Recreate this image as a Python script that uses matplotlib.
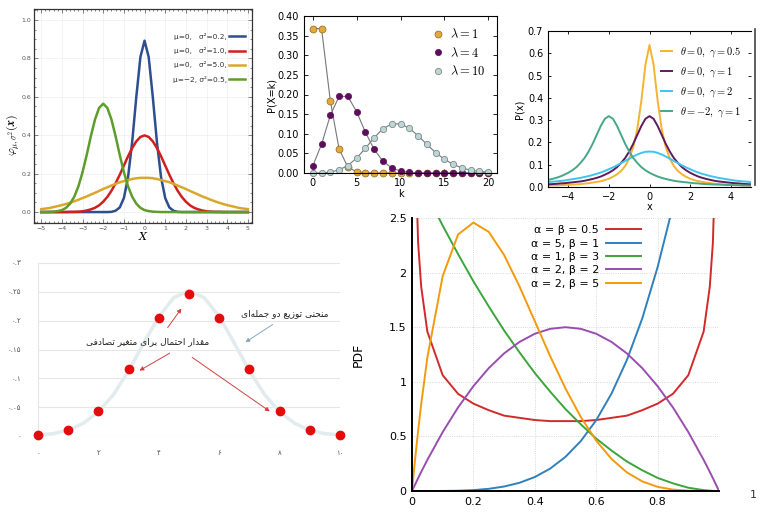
import numpy as np
import matplotlib
matplotlib.use("Agg")
import matplotlib.pyplot as plt
from matplotlib.lines import Line2D

# figure size in pixels, panels are placed by pixel boxes
W, H = 768, 517

def box(left, top, right, bottom):
    return [left / W, 1 - bottom / H, (right - left) / W, (bottom - top) / H]

# ---- data: normal distribution panel (sampled every 0.2) ----
norm_x = np.round(np.arange(-5, 5.01, 0.2), 1)
norm_blue = [0, 0, 0, 0, 0, 0, 0, 0, 0, 0, 0, 0, 0, 0, 0, 0,
             0.0, 0.001, 0.007, 0.024, 0.073, 0.180, 0.363, 0.598, 0.807, 0.892,
             0.807, 0.598, 0.363, 0.180, 0.073, 0.024, 0.007, 0.001, 0.0,
             0, 0, 0, 0, 0, 0, 0, 0, 0, 0, 0, 0, 0, 0, 0, 0]
norm_red = [0, 0, 0, 0, 0, 0, 0, 0.001, 0.001, 0.002, 0.004, 0.008, 0.014, 0.022, 0.035,
            0.054, 0.079, 0.111, 0.150, 0.194, 0.242, 0.290, 0.333, 0.368, 0.391, 0.399,
            0.391, 0.368, 0.333, 0.290, 0.242, 0.194, 0.150, 0.111, 0.079, 0.054,
            0.035, 0.022, 0.014, 0.008, 0.004, 0.002, 0.001, 0.001, 0, 0, 0, 0, 0, 0, 0]
norm_orange = [0.015, 0.018, 0.021, 0.026, 0.031, 0.036, 0.042, 0.049, 0.056, 0.064,
               0.073, 0.081, 0.091, 0.100, 0.110, 0.120, 0.129, 0.138, 0.147, 0.155,
               0.161, 0.167, 0.172, 0.176, 0.178, 0.178, 0.178, 0.176, 0.172, 0.167,
               0.161, 0.155, 0.147, 0.138, 0.129, 0.120, 0.110, 0.100, 0.091, 0.081,
               0.073, 0.064, 0.056, 0.049, 0.042, 0.036, 0.031, 0.026, 0.021, 0.018, 0.015]
norm_green = [0.000, 0.000, 0.001, 0.002, 0.005, 0.010, 0.022, 0.044, 0.080, 0.134,
              0.208, 0.297, 0.394, 0.481, 0.542, 0.564, 0.542, 0.481, 0.394, 0.297,
              0.208, 0.134, 0.080, 0.044, 0.022, 0.010, 0.005, 0.002, 0.001,
              0, 0, 0, 0, 0, 0, 0, 0, 0, 0, 0, 0, 0, 0, 0, 0, 0, 0, 0, 0, 0, 0]
norm_labels = ["\u03bc=0,   \u03c3\u00b2=0.2,", "\u03bc=0,   \u03c3\u00b2=1.0,",
               "\u03bc=0,   \u03c3\u00b2=5.0,", "\u03bc=\u22122, \u03c3\u00b2=0.5,"]

# ---- data: poisson panel ----
pois_k = np.arange(0, 21)
pois_1 = [0.368, 0.368, 0.184, 0.061, 0.015, 0.003, 0.001, 0, 0, 0, 0,
          0, 0, 0, 0, 0, 0, 0, 0, 0, 0]
pois_4 = [0.018, 0.073, 0.147, 0.195, 0.195, 0.156, 0.104, 0.060, 0.030, 0.013, 0.005,
          0.002, 0.001, 0, 0, 0, 0, 0, 0, 0, 0]
pois_10 = [0.000, 0.000, 0.002, 0.008, 0.019, 0.038, 0.063, 0.090, 0.113, 0.125, 0.125,
           0.114, 0.095, 0.073, 0.052, 0.035, 0.022, 0.013, 0.007, 0.004, 0.002]

# ---- data: cauchy panel (same x grid as normal) ----
cau_orange = [0.006, 0.007, 0.007, 0.008, 0.009, 0.010, 0.011, 0.012, 0.013, 0.015,
              0.017, 0.020, 0.023, 0.026, 0.031, 0.037, 0.046, 0.057, 0.072, 0.094,
              0.127, 0.179, 0.261, 0.388, 0.549, 0.637, 0.549, 0.388, 0.261, 0.179,
              0.127, 0.094, 0.072, 0.057, 0.046, 0.037, 0.031, 0.026, 0.023, 0.020,
              0.017, 0.015, 0.013, 0.012, 0.011, 0.010, 0.009, 0.008, 0.007, 0.007, 0.006]
cau_purple = [0.012, 0.013, 0.014, 0.016, 0.017, 0.019, 0.021, 0.023, 0.025, 0.028,
              0.032, 0.036, 0.041, 0.047, 0.055, 0.064, 0.075, 0.089, 0.108, 0.130,
              0.159, 0.194, 0.234, 0.274, 0.306, 0.318, 0.306, 0.274, 0.234, 0.194,
              0.159, 0.130, 0.108, 0.089, 0.075, 0.064, 0.055, 0.047, 0.041, 0.036,
              0.032, 0.028, 0.025, 0.023, 0.021, 0.019, 0.017, 0.016, 0.014, 0.013, 0.012]
cau_cyan = [0.022, 0.024, 0.025, 0.027, 0.029, 0.032, 0.035, 0.038, 0.041, 0.045,
            0.049, 0.054, 0.059, 0.065, 0.072, 0.080, 0.088, 0.097, 0.107, 0.117,
            0.127, 0.137, 0.146, 0.153, 0.158, 0.159, 0.158, 0.153, 0.146, 0.137,
            0.127, 0.117, 0.107, 0.097, 0.088, 0.080, 0.072, 0.065, 0.059, 0.054,
            0.049, 0.045, 0.041, 0.038, 0.035, 0.032, 0.029, 0.027, 0.025, 0.024, 0.022]
cau_teal = [0.032, 0.036, 0.041, 0.047, 0.055, 0.064, 0.075, 0.089, 0.108, 0.130,
            0.159, 0.194, 0.234, 0.274, 0.306, 0.318, 0.306, 0.274, 0.234, 0.194,
            0.159, 0.130, 0.108, 0.089, 0.075, 0.064, 0.055, 0.047, 0.041, 0.036,
            0.032, 0.028, 0.025, 0.023, 0.021, 0.019, 0.017, 0.016, 0.014, 0.013,
            0.012, 0.011, 0.011, 0.010, 0.009, 0.009, 0.008, 0.008, 0.007, 0.007, 0.006]
cau_labels = [r"$\theta=0,\ \gamma=0.5$", r"$\theta=0,\ \gamma=1$",
              r"$\theta=0,\ \gamma=2$", r"$\theta=-2,\ \gamma=1$"]

# ---- data: binomial panel (persian) ----
binom_k = np.arange(0, 11)
binom_p = [0.001, 0.010, 0.044, 0.117, 0.205, 0.246, 0.205, 0.117, 0.044, 0.010, 0.001]
curve_x = np.arange(0, 10.01, 0.5)
curve_y = [0.002, 0.004, 0.010, 0.022, 0.042, 0.072, 0.113, 0.161, 0.207, 0.240, 0.252,
           0.240, 0.207, 0.161, 0.113, 0.072, 0.042, 0.022, 0.010, 0.004, 0.002]
fa_yticks = ["۰", "۰.۰۵", "۰.۱", "۰.۱۵", "۰.۲", "۰.۲۵", "۰.۳"]
fa_xticks = ["۰", "۲", "۴", "۶", "۸", "۱۰"]
txt_curve = "منحنی توزیع دو جمله\u200cای"
txt_prob = "مقدار احتمال برای متغیر تصادفی"

# ---- data: beta panel ----
beta_x = [0, 0.005, 0.01, 0.02, 0.03, 0.05, 0.1, 0.15, 0.2, 0.25, 0.3, 0.35, 0.4, 0.45, 0.5,
          0.55, 0.6, 0.65, 0.7, 0.75, 0.8, 0.85, 0.9, 0.95, 0.97, 0.98, 0.99, 0.995, 1.0]
beta_red = [np.nan, 4.51, 3.20, 2.27, 1.87, 1.46, 1.06, 0.89, 0.80, 0.74, 0.69, 0.67, 0.65,
            0.64, 0.64, 0.64, 0.65, 0.67, 0.69, 0.74, 0.80, 0.89, 1.06, 1.46, 1.87, 2.27,
            3.20, 4.51, np.nan]
beta_blue = [0, 0, 0, 0, 0, 0, 0.0005, 0.0025, 0.008, 0.020, 0.041, 0.075, 0.128, 0.205,
             0.313, 0.458, 0.648, 0.893, 1.20, 1.58, 2.05, 2.61, 3.28, 4.07, 4.43, 4.61,
             4.80, 4.90, 5.0]
beta_green = [3.0, 2.97, 2.94, 2.88, 2.82, 2.71, 2.43, 2.17, 1.92, 1.69, 1.47, 1.27, 1.08,
              0.91, 0.75, 0.61, 0.48, 0.37, 0.27, 0.19, 0.12, 0.07, 0.03, 0.008, 0.003,
              0.001, 0, 0, 0]
beta_purple = [0, 0.030, 0.059, 0.118, 0.175, 0.285, 0.54, 0.765, 0.96, 1.125, 1.26, 1.365,
               1.44, 1.485, 1.5, 1.485, 1.44, 1.365, 1.26, 1.125, 0.96, 0.765, 0.54, 0.285,
               0.175, 0.118, 0.059, 0.030, 0]
beta_orange = [0, 0.147, 0.288, 0.553, 0.797, 1.222, 1.968, 2.349, 2.458, 2.373, 2.161,
               1.874, 1.555, 1.235, 0.938, 0.677, 0.461, 0.293, 0.170, 0.088, 0.038, 0.013,
               0.003, 0, 0, 0, 0, 0, 0]
beta_labels = ["\u03b1 = \u03b2 = 0.5", "\u03b1 = 5, \u03b2 = 1", "\u03b1 = 1, \u03b2 = 3",
               "\u03b1 = 2, \u03b2 = 2", "\u03b1 = 2, \u03b2 = 5"]

# arabic presentation forms: isolated, final, initial, medial
FORMS = {
    "ا": ("\ufe8d", "\ufe8e", None, None),
    "ب": ("\ufe8f", "\ufe90", "\ufe91", "\ufe92"),
    "ت": ("\ufe95", "\ufe96", "\ufe97", "\ufe98"),
    "ج": ("\ufe9d", "\ufe9e", "\ufe9f", "\ufea0"),
    "ح": ("\ufea1", "\ufea2", "\ufea3", "\ufea4"),
    "د": ("\ufea9", "\ufeaa", None, None),
    "ر": ("\ufead", "\ufeae", None, None),
    "ز": ("\ufeaf", "\ufeb0", None, None),
    "ص": ("\ufeb9", "\ufeba", "\ufebb", "\ufebc"),
    "ع": ("\ufec9", "\ufeca", "\ufecb", "\ufecc"),
    "غ": ("\ufecd", "\ufece", "\ufecf", "\ufed0"),
    "ف": ("\ufed1", "\ufed2", "\ufed3", "\ufed4"),
    "ق": ("\ufed5", "\ufed6", "\ufed7", "\ufed8"),
    "ل": ("\ufedd", "\ufede", "\ufedf", "\ufee0"),
    "م": ("\ufee1", "\ufee2", "\ufee3", "\ufee4"),
    "ن": ("\ufee5", "\ufee6", "\ufee7", "\ufee8"),
    "ه": ("\ufee9", "\ufeea", "\ufeeb", "\ufeec"),
    "و": ("\ufeed", "\ufeee", None, None),
    "ی": ("\ufeef", "\ufef0", "\ufef3", "\ufef4"),
}

def fa(text):
    out = []
    for i, c in enumerate(text):
        if c not in FORMS:
            if c != "\u200c":
                out.append(c)
            continue
        prev = text[i - 1] if i > 0 else None
        nxt = text[i + 1] if i + 1 < len(text) else None
        join_prev = prev in FORMS and FORMS[prev][2] is not None
        join_next = FORMS[c][2] is not None and nxt in FORMS
        iso, fin, ini, med = FORMS[c]
        if join_prev and join_next:
            out.append(med)
        elif join_prev:
            out.append(fin)
        elif join_next:
            out.append(ini)
        else:
            out.append(iso)
    return "".join(reversed(out))


plt.rcParams["mathtext.fontset"] = "cm"
fig = plt.figure(figsize=(W / 100, H / 100), dpi=100)
fig.patch.set_facecolor("white")

# ================= panel 1: normal =================
ax1 = fig.add_axes(box(34, 9, 252, 223))
for ys, col in zip([norm_blue, norm_red, norm_orange, norm_green],
                   ["#2d4f8e", "#d11f1f", "#d9a72b", "#5e9c2c"]):
    ax1.plot(norm_x, ys, color=col, lw=1.8)
ax1.set_xlim(-5.35, 5.2)
ax1.set_ylim(-0.057, 1.057)
ax1.set_xticks(range(-5, 6))
ax1.set_yticks([0, 0.2, 0.4, 0.6, 0.8, 1.0])
ax1.set_yticklabels(["0.0", "0.2", "0.4", "0.6", "0.8", "1.0"])
ax1.minorticks_on()
ax1.tick_params(which="both", direction="in", top=True, right=True, colors="#555555",
                labelsize=4.5, width=0.5, pad=2)
ax1.tick_params(which="major", length=3)
ax1.tick_params(which="minor", length=1.5)
ax1.grid(True, which="major", color="#eeeeee", lw=0.5)
for s in ax1.spines.values():
    s.set_color("#333333")
    s.set_linewidth(0.9)
ax1.set_xlabel("X", fontsize=8, style="italic", family="DejaVu Serif", labelpad=1)
fig.text(13 / W, 1 - 135 / H, r"$\boldsymbol{\varphi}_{\mu,\sigma^2}(\boldsymbol{x})$",
         rotation=90, fontsize=8.5, ha="center", va="center")
leg1 = ax1.legend(norm_labels, loc="upper right", frameon=False, fontsize=5.3,
                  markerfirst=False, handlelength=2.2, labelspacing=1.0,
                  bbox_to_anchor=(1.0, 0.92), handletextpad=0.3)
for t in leg1.get_texts():
    t.set_color("#333333")

# ================= panel 2: poisson =================
ax2 = fig.add_axes(box(304, 16, 497, 173))
ax2.plot(pois_k, pois_1, "-o", color="#777777", lw=0.8, markersize=5,
         markerfacecolor="#e6a83a", markeredgecolor="#8a6a20", markeredgewidth=0.5,
         label=r"$\lambda=1$", clip_on=False)
ax2.plot(pois_k, pois_4, "-o", color="#777777", lw=0.8, markersize=4.5,
         markerfacecolor="#5e0d5e", markeredgecolor="#5e0d5e", markeredgewidth=0.5,
         label=r"$\lambda=4$", clip_on=False)
ax2.plot(pois_k, pois_10, "-o", color="#777777", lw=0.8, markersize=4.5,
         markerfacecolor="#bcd6d6", markeredgecolor="#7a8a8a", markeredgewidth=0.6,
         label=r"$\lambda=10$", clip_on=False)
ax2.set_xlim(-1, 21)
ax2.set_ylim(0, 0.40)
ax2.set_xticks([0, 5, 10, 15, 20])
ax2.set_yticks(np.arange(0, 0.41, 0.05))
ax2.set_yticklabels(["0.00", "0.05", "0.10", "0.15", "0.20", "0.25", "0.30", "0.35", "0.40"])
ax2.tick_params(direction="in", top=True, right=True, labelsize=7, length=3, width=0.6)
for s in ax2.spines.values():
    s.set_linewidth(0.8)
ax2.set_xlabel("k", fontsize=7, labelpad=1)
ax2.set_ylabel("P(X=k)", fontsize=7, labelpad=1)
leg2 = ax2.legend(loc="upper right", frameon=False, fontsize=9, handlelength=1.0,
                  handletextpad=0.5, labelspacing=0.35, bbox_to_anchor=(1.0, 1.0),
                  numpoints=1)
for h in leg2.legend_handles:
    h.set_linestyle("None")

# ================= panel 3: cauchy =================
ax3 = fig.add_axes(box(548, 31, 751, 187))
for ys, col, lab in zip([cau_orange, cau_purple, cau_cyan, cau_teal],
                        ["#f2b432", "#5f1a61", "#3fc4ec", "#45a889"], cau_labels):
    ax3.plot(norm_x, ys, color=col, lw=1.4, label=lab)
ax3.set_xlim(-5, 5)
ax3.set_ylim(0, 0.7)
ax3.set_xticks([-4, -2, 0, 2, 4])
ax3.set_xticklabels(["\u22124", "\u22122", "0", "2", "4"])
ax3.set_yticks(np.arange(0, 0.71, 0.1))
ax3.set_yticklabels(["0.0", "0.1", "0.2", "0.3", "0.4", "0.5", "0.6", "0.7"])
ax3.tick_params(direction="in", top=True, right=True, labelsize=7, length=2.5, width=0.6)
ax3.spines["right"].set_visible(False)
for s in ax3.spines.values():
    s.set_linewidth(0.8)
ax3.set_xlabel("x", fontsize=7, labelpad=0)
ax3.set_ylabel("P(x)", fontsize=7, labelpad=2)
ax3.legend(loc="upper right", frameon=False, fontsize=7.5, handlelength=1.0,
           handletextpad=0.8, labelspacing=0.6, bbox_to_anchor=(1.0, 0.97))
fig.add_artist(Line2D([755 / W, 755 / W], [1 - 29 / H, 1 - 185 / H], color="#444444", lw=1.2))

# ================= panel 4: binomial (persian) =================
ax4 = fig.add_axes(box(38, 263, 340, 436))
ax4.plot(curve_x, curve_y, color="#e2ebee", lw=2.5, zorder=2)
ax4.plot(binom_k, binom_p, "o", color="#e30b0b", markersize=6, zorder=3, clip_on=False)
ax4.set_xlim(0, 10)
ax4.set_ylim(0, 0.3)
ax4.set_yticks([0, 0.05, 0.1, 0.15, 0.2, 0.25, 0.3])
ax4.set_yticklabels(fa_yticks)
ax4.set_xticks([0, 2, 4, 6, 8, 10])
ax4.set_xticklabels(fa_xticks)
ax4.tick_params(length=0, labelsize=5, colors="#555555", pad=12)
ax4.tick_params(axis="x", pad=10)
ax4.grid(True, axis="y", color="#e6e6e6", lw=0.8)
for k in ["top", "right", "bottom"]:
    ax4.spines[k].set_visible(False)
ax4.spines["left"].set_color("#e6e6e6")
ax4.text(8.18, 0.2115, fa(txt_curve), fontsize=6.5, ha="center", va="center", color="#222222")
ax4.text(3.64, 0.163, fa(txt_prob), fontsize=6.5, ha="center", va="center", color="#222222")
ax4.annotate("", xy=(6.79, 0.160), xytext=(7.85, 0.196),
             arrowprops=dict(arrowstyle="-|>", color="#8aa6bd", lw=0.7, mutation_scale=6))
for (sx, sy), (ex, ey) in [((4.24, 0.184), (4.80, 0.225)),
                           ((4.44, 0.146), (3.28, 0.111)),
                           ((5.03, 0.139), (7.75, 0.040))]:
    ax4.annotate("", xy=(ex, ey), xytext=(sx, sy),
                 arrowprops=dict(arrowstyle="-|>", color="#d24040", lw=0.7, mutation_scale=6))

# ================= panel 5: beta =================
ax5 = fig.add_axes(box(412, 218, 719, 491))
for ys, col, lab in zip([beta_red, beta_blue, beta_green, beta_purple, beta_orange],
                        ["#d12a2a", "#2f80bd", "#3ba53b", "#9a4db0", "#f39a0c"], beta_labels):
    ax5.plot(beta_x, ys, color=col, lw=1.4, label=lab)
ax5.set_xlim(0, 1)
ax5.set_ylim(0, 2.5)
ax5.set_xticks([0, 0.2, 0.4, 0.6, 0.8])
ax5.set_xticklabels(["0", "0.2", "0.4", "0.6", "0.8"])
ax5.set_yticks([0, 0.5, 1, 1.5, 2, 2.5])
ax5.set_yticklabels(["0", "0.5", "1", "1.5", "2", "2.5"])
ax5.tick_params(length=0, labelsize=8, pad=4)
ax5.grid(True, color="#cccccc", lw=0.6, linestyle=":")
ax5.spines["top"].set_visible(False)
ax5.spines["right"].set_visible(False)
ax5.spines["left"].set_linewidth(1.4)
ax5.spines["bottom"].set_linewidth(1.4)
ax5.legend(loc="upper center", bbox_to_anchor=(0.567, 1.01), frameon=False, fontsize=8,
           markerfirst=False, handlelength=3.2, handletextpad=0.6, labelspacing=0.3)
fig.text(358 / W, 1 - 355 / H, "PDF", rotation=90, fontsize=9, ha="center", va="center")
fig.text(753 / W, 1 - 495 / H, "1", fontsize=8, ha="center", va="center", color="#333333")

fig.savefig("out.png", dpi=100)
